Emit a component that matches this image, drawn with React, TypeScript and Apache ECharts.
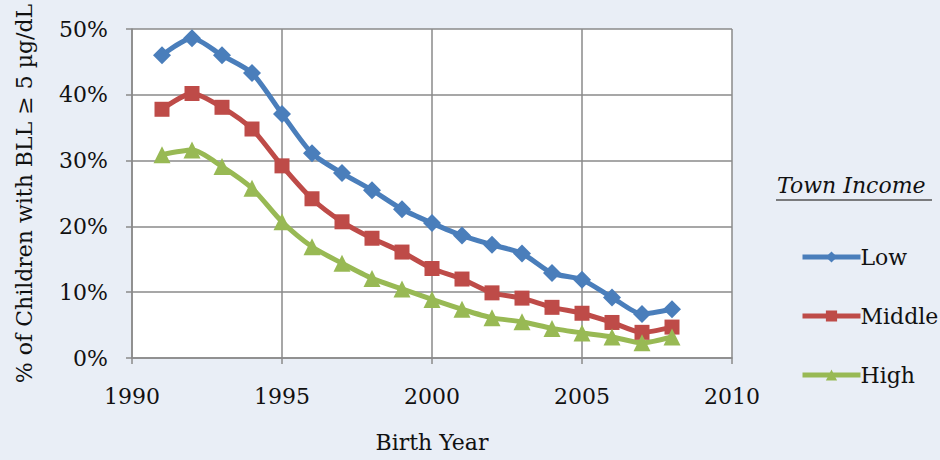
import React, { useEffect, useRef } from "react";
import * as echarts from "echarts";

const years = [1991, 1992, 1993, 1994, 1995, 1996, 1997, 1998, 1999, 2000, 2001, 2002, 2003, 2004, 2005, 2006, 2007, 2008];
const lowIncome = [46.0, 48.6, 46.0, 43.3, 37.1, 31.1, 28.1, 25.5, 22.6, 20.5, 18.6, 17.2, 15.9, 12.9, 11.9, 9.2, 6.7, 7.4];
const middleIncome = [37.8, 40.2, 38.1, 34.8, 29.2, 24.2, 20.7, 18.2, 16.1, 13.6, 12.0, 9.9, 9.1, 7.7, 6.8, 5.4, 3.9, 4.7];
const highIncome = [30.9, 31.6, 29.1, 25.8, 20.7, 16.9, 14.4, 12.1, 10.5, 8.9, 7.4, 6.1, 5.5, 4.5, 3.8, 3.2, 2.3, 3.2];
const seriesNames = ["Low", "Middle", "High"];
const legendTitle = "Town Income";
const xAxisTitle = "Birth Year";
const yAxisTitle = "% of Children with BLL \u2265 5 \u00b5g/dL";

const FONT = "DejaVu Serif";

export default function App() {
  const ref = useRef<HTMLDivElement>(null);
  useEffect(() => {
    if (!ref.current) return;
    const chart = echarts.init(ref.current, null, { renderer: "svg" });
    const mk = (name: string, vals: number[], color: string, symbol: string, size: number) => ({
      name,
      type: "line",
      data: years.map((y, i) => [y, vals[i]]),
      smooth: 0.25,
      symbol,
      symbolSize: size,
      lineStyle: { color, width: 5 },
      itemStyle: { color },
      emphasis: { disabled: true },
    });
    chart.setOption({
      animation: false,
      backgroundColor: "#E9EEF6",
      textStyle: { fontFamily: FONT },
      grid: {
        left: 132,
        right: 208,
        top: 29,
        bottom: 102,
        show: true,
        backgroundColor: "#ffffff",
        borderWidth: 0,
        outerBoundsMode: "none",
      },
      xAxis: {
        type: "value",
        min: 1990,
        max: 2010,
        interval: 5,
        name: xAxisTitle,
        nameLocation: "middle",
        nameGap: 73,
        nameTextStyle: { fontSize: 22, color: "#111", fontFamily: FONT },
        axisLine: { show: true, lineStyle: { color: "#8a8a8a", width: 1.5 } },
        axisTick: { show: true, inside: false, length: 6, lineStyle: { color: "#8a8a8a", width: 1.5 } },
        axisLabel: { fontSize: 22, color: "#111", margin: 27, fontFamily: FONT, formatter: (v: number) => String(v) },
        splitLine: { show: true, lineStyle: { color: "#8a8a8a", width: 1.5 } },
      },
      yAxis: {
        type: "value",
        min: 0,
        max: 50,
        interval: 10,
        name: yAxisTitle,
        nameLocation: "middle",
        nameGap: 97,
        nameRotate: 90,
        nameTextStyle: { fontSize: 22, color: "#111", fontFamily: FONT },
        axisLine: { show: true, lineStyle: { color: "#8a8a8a", width: 1.5 } },
        axisTick: { show: true, inside: false, length: 6, lineStyle: { color: "#8a8a8a", width: 1.5 } },
        axisLabel: { fontSize: 22, color: "#111", margin: 24, fontFamily: FONT, formatter: "{value}%" },
        splitLine: { show: true, lineStyle: { color: "#8a8a8a", width: 1.5 } },
      },
      legend: {
        data: seriesNames,
        orient: "vertical",
        left: 795,
        top: 241,
        itemWidth: 58,
        itemHeight: 14,
        itemGap: 37,
        lineStyle: { width: 5 },
        textStyle: { fontSize: 22, color: "#111", fontFamily: FONT, padding: [0, 0, 0, -5] },
      },
      graphic: [
        {
          type: "text",
          left: 777,
          top: 174,
          style: { text: legendTitle, fontSize: 22, fontStyle: "italic", fontFamily: FONT, fill: "#111" },
        },
        {
          type: "line",
          shape: { x1: 776, y1: 200, x2: 932, y2: 200 },
          style: { stroke: "#555", lineWidth: 1.5 },
        },
      ],
      series: [
        mk(seriesNames[0], lowIncome, "#4A7EBB", "diamond", 18),
        mk(seriesNames[1], middleIncome, "#BE4B48", "rect", 15),
        mk(seriesNames[2], highIncome, "#98B954", "triangle", 17),
      ],
    });
    return () => chart.dispose();
  }, []);
  return <div ref={ref} style={{ width: 940, height: 460, position: "fixed", left: 0, top: 0 }} />;
}
